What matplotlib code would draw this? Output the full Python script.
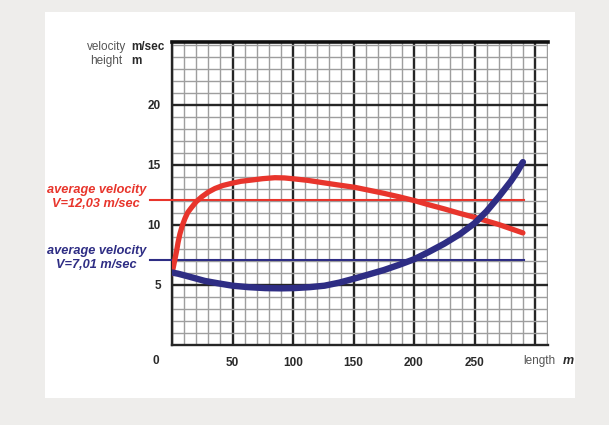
import matplotlib
matplotlib.use("Agg")
import matplotlib.pyplot as plt
from matplotlib.ticker import MultipleLocator
from matplotlib.patches import Rectangle

# ---- data ----
red_x = [0, 2, 3.8, 5, 6.5, 8.5, 10.7, 13, 16, 20, 24.5, 30, 35.5, 42, 50, 57, 65.5, 75, 85, 93, 101,
         112, 123.7, 137, 151, 163, 175, 188, 200, 212, 225, 237, 250, 260, 270, 280, 290]
red_y = [5.9, 6.9, 7.8, 8.5, 9.2, 9.9, 10.5, 11.0, 11.4, 11.9, 12.3, 12.7, 13.0, 13.25, 13.45, 13.6, 13.7,
         13.82, 13.9, 13.88, 13.8, 13.68, 13.5, 13.3, 13.1, 12.85, 12.6, 12.3, 12.0, 11.65, 11.3, 10.95,
         10.6, 10.3, 10.0, 9.65, 9.3]
blue_x = [0, 5, 10.7, 18, 27, 38, 50, 63, 77, 90, 101, 114, 126, 138, 151, 163, 175, 188, 200, 212,
          225, 238, 250, 255, 260, 265, 270, 275, 280, 285, 290]
blue_y = [6.0, 5.9, 5.75, 5.55, 5.3, 5.1, 4.9, 4.78, 4.7, 4.68, 4.7, 4.78, 4.9, 5.15, 5.5, 5.85, 6.2,
          6.65, 7.1, 7.7, 8.4, 9.2, 10.1, 10.6, 11.1, 11.7, 12.3, 12.95, 13.6, 14.35, 15.2]
avg_red = 12.03
avg_blue = 7.01
avg_span = [-18, 291]
x_ticks = [0, 50, 100, 150, 200, 250, 300]
x_labels = ["", "50", "100", "150", "200", "250", ""]
y_ticks = [5, 10, 15, 20]
y_labels = ["5", "10", "15", "20"]

W, H = 609, 425
BG = "#eeedeb"
fig = plt.figure(figsize=(W / 100, H / 100), dpi=100)
fig.patch.set_facecolor(BG)

def fx(px):
    return px / W

def fy(py):
    return 1 - py / H

# white card
fig.add_artist(Rectangle((fx(45), fy(398)), fx(575) - fx(45), fy(12) - fy(398),
                         transform=fig.transFigure, facecolor="white", edgecolor="none", zorder=-5))

L, R, T, B = 172, 548, 42, 344.5
ax = fig.add_axes([fx(L), fy(B), fx(R) - fx(L), fy(T) - fy(B)])
ax.set_facecolor("white")
ax.set_xlim(0, (R - L) / 1.21)
ax.set_ylim(0, (B - T) / 12.0)

RED = "#e8352c"
BLUE = "#2e2d84"
TXT = "#2a2a2a"
fam = "Liberation Sans"
FS = 8.5

ax.xaxis.set_minor_locator(MultipleLocator(10))
ax.yaxis.set_minor_locator(MultipleLocator(1))
ax.set_xticks(x_ticks)
ax.set_xticklabels(x_labels)
ax.set_yticks(y_ticks)
ax.set_yticklabels(y_labels)
ax.grid(which="minor", color="#9e9e9e", lw=1.0)
ax.grid(which="major", color="#262626", lw=1.7)
ax.set_axisbelow(True)
ax.tick_params(which="both", length=0)
ax.tick_params(axis="x", pad=9, labelsize=FS, labelcolor=TXT)
ax.tick_params(axis="y", pad=8, labelsize=FS, labelcolor=TXT)
for lab in ax.get_xticklabels() + ax.get_yticklabels():
    lab.set_fontfamily(fam)
    lab.set_fontweight("bold")

for s in ["left", "bottom"]:
    ax.spines[s].set_color("#262626")
    ax.spines[s].set_linewidth(1.7)
ax.spines["top"].set_color("#111111")
ax.spines["top"].set_linewidth(2.6)
ax.spines["right"].set_visible(False)

# average lines
ax.plot(avg_span, [avg_red, avg_red], color=RED, lw=1.5, clip_on=False, zorder=3)
ax.plot(avg_span, [avg_blue, avg_blue], color=BLUE, lw=1.5, clip_on=False, zorder=3)

# curves
ax.plot(red_x, red_y, color=RED, lw=3.8, solid_capstyle="round", solid_joinstyle="round", zorder=4)
ax.plot(blue_x, blue_y, color=BLUE, lw=4.6, solid_capstyle="round", solid_joinstyle="round", zorder=5)

# axis titles
fig.text(fx(126), fy(47), "velocity", ha="right", va="center", fontsize=FS, color="#555555", family=fam)
fig.text(fx(131), fy(47), "m/sec", ha="left", va="center", fontsize=FS, color=TXT, family=fam, fontweight="bold")
fig.text(fx(122), fy(61), "height", ha="right", va="center", fontsize=FS, color="#555555", family=fam)
fig.text(fx(131), fy(61), "m", ha="left", va="center", fontsize=FS, color=TXT, family=fam, fontweight="bold")
fig.text(fx(156), fy(361), "0", ha="center", va="center", fontsize=FS, color=TXT, family=fam, fontweight="bold")
fig.text(fx(523), fy(361), "length", ha="left", va="center", fontsize=FS, color="#555555", family=fam)
fig.text(fx(563), fy(361), "m", ha="left", va="center", fontsize=FS + 0.5, color=TXT, family=fam,
         fontweight="bold", style="italic")

# average labels
LFS = 9.2
fig.text(fx(146), fy(190), "average velocity", ha="right", va="center", fontsize=LFS, color=RED,
         family=fam, fontweight="bold", style="italic")
fig.text(fx(96), fy(204), "V=12,03 m/sec", ha="center", va="center", fontsize=LFS, color=RED,
         family=fam, fontweight="bold", style="italic")
fig.text(fx(146), fy(251), "average velocity", ha="right", va="center", fontsize=LFS, color=BLUE,
         family=fam, fontweight="bold", style="italic")
fig.text(fx(96), fy(265), "V=7,01 m/sec", ha="center", va="center", fontsize=LFS, color=BLUE,
         family=fam, fontweight="bold", style="italic")

# gray margins drawn on top to clip text at the card edges
for (x0, x1) in [(0, 45), (575, W)]:
    fig.add_artist(Rectangle((fx(x0), 0), fx(x1) - fx(x0), 1, transform=fig.transFigure,
                             facecolor=BG, edgecolor="none", zorder=20))

fig.savefig("out.png", dpi=100, facecolor=fig.get_facecolor())
